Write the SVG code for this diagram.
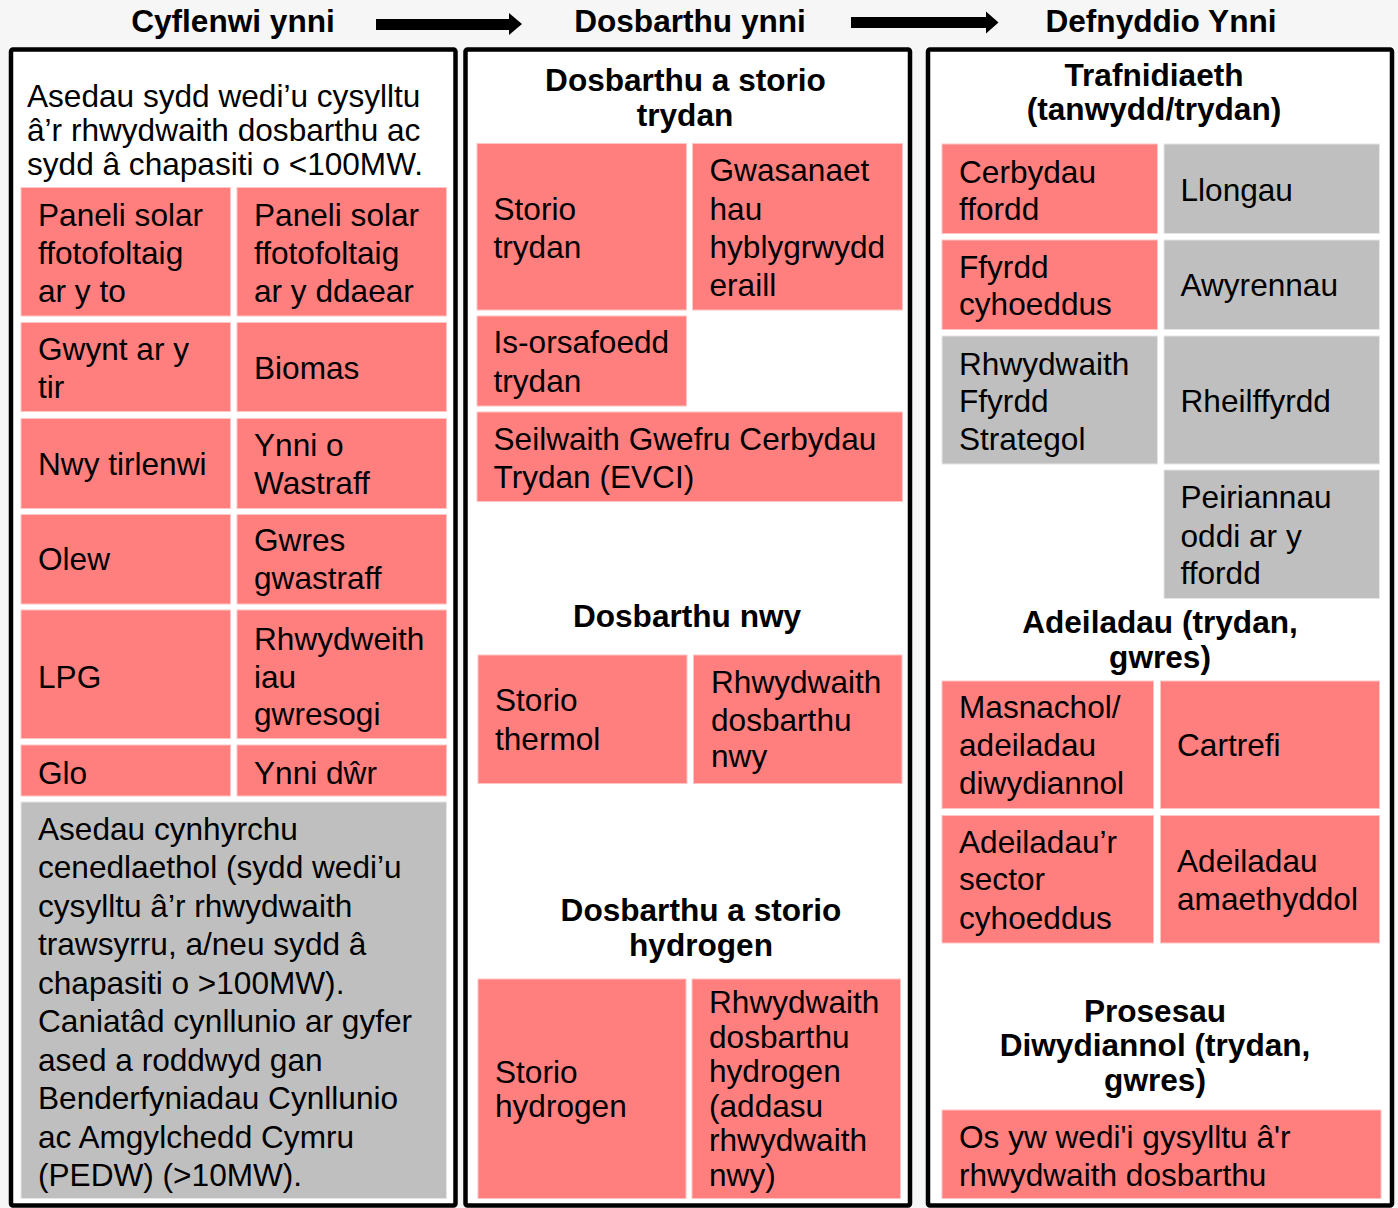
<svg xmlns="http://www.w3.org/2000/svg" width="1398" height="1208" viewBox="0 0 1398 1208">
<style>
text{font-family:"Liberation Sans",Arial,sans-serif;font-size:31.6px;fill:#000}
.h{font-weight:bold;text-anchor:middle}
.p{fill:#ff7f7f;stroke:#ffc4c4;stroke-width:1}
.g{fill:#bfbfbf;stroke:#e6e6e6;stroke-width:1}
.box{fill:#fff;stroke:#000;stroke-width:4.5}
.arr{fill:#000}
</style>
<rect x="0" y="0" width="1398" height="1208" fill="#f6f6f6"/>
<g id="headers">
<text class="h" x="233" y="32">Cyflenwi ynni</text>
<text class="h" x="690" y="32">Dosbarthu ynni</text>
<text class="h" x="1161" y="32">Defnyddio Ynni</text>
</g>
<g id="connectors">
<polygon class="arr" points="376,19 509,19 509,13 522,24 509,35 509,30 376,30"/>
<polygon class="arr" points="851,17 986,17 986,11.5 998.5,22.5 986,33.5 986,28 851,28"/>
</g>
<g id="col-supply">
<rect class="box" x="11" y="49.5" width="444.5" height="1156" rx="2"/>
<text x="27" y="107">Asedau sydd wedi’u cysylltu</text>
<text x="27" y="141">â’r rhwydwaith dosbarthu ac</text>
<text x="27" y="175">sydd â chapasiti o &lt;100MW.</text>
</g>
<g id="col-distribution">
<rect class="box" x="465.5" y="49.5" width="444.5" height="1156" rx="2"/>
<text class="h" x="685.5" y="91">Dosbarthu a storio</text>
<text class="h" x="685" y="126">trydan</text>
<text class="h" x="687" y="627">Dosbarthu nwy</text>
<text class="h" x="701" y="921">Dosbarthu a storio</text>
<text class="h" x="701" y="956">hydrogen</text>
</g>
<g id="col-use">
<rect class="box" x="928" y="49.5" width="464" height="1156" rx="2"/>
<text class="h" x="1154" y="86">Trafnidiaeth</text>
<text class="h" x="1154" y="120">(tanwydd/trydan)</text>
<text class="h" x="1160" y="633">Adeiladau (trydan,</text>
<text class="h" x="1160" y="668">gwres)</text>
<text class="h" x="1155" y="1022">Prosesau</text>
<text class="h" x="1155" y="1056">Diwydiannol (trydan,</text>
<text class="h" x="1155" y="1091">gwres)</text>
</g>

<!-- Supply cells -->
<g id="s-solar-roof"><rect class="p" x="21" y="187.5" width="209.5" height="128.5"/>
<text x="38" y="226">Paneli solar</text><text x="38" y="264">ffotofoltaig</text><text x="38" y="302">ar y to</text></g>
<g id="s-solar-ground"><rect class="p" x="237" y="187.5" width="209.5" height="128.5"/>
<text x="254" y="226">Paneli solar</text><text x="254" y="264">ffotofoltaig</text><text x="254" y="302">ar y ddaear</text></g>
<g id="s-wind"><rect class="p" x="21" y="322.5" width="209.5" height="89"/>
<text x="38" y="360">Gwynt ar y</text><text x="38" y="397.5">tir</text></g>
<g id="s-biomass"><rect class="p" x="237" y="322.5" width="209.5" height="89"/>
<text x="254" y="379">Biomas</text></g>
<g id="s-landfill"><rect class="p" x="21" y="418.5" width="209.5" height="90"/>
<text x="38" y="475">Nwy tirlenwi</text></g>
<g id="s-waste"><rect class="p" x="237" y="418.5" width="209.5" height="90"/>
<text x="254" y="456">Ynni o</text><text x="254" y="494">Wastraff</text></g>
<g id="s-oil"><rect class="p" x="21" y="514.5" width="209.5" height="89.5"/>
<text x="38" y="570">Olew</text></g>
<g id="s-wasteheat"><rect class="p" x="237" y="514.5" width="209.5" height="89.5"/>
<text x="254" y="551">Gwres</text><text x="254" y="589">gwastraff</text></g>
<g id="s-lpg"><rect class="p" x="21" y="610" width="209.5" height="128.5"/>
<text x="38" y="687.5">LPG</text></g>
<g id="s-heatnet"><rect class="p" x="237" y="610" width="209.5" height="128.5"/>
<text x="254" y="649.5">Rhwydweith</text><text x="254" y="687.5">iau</text><text x="254" y="724.5">gwresogi</text></g>
<g id="s-coal"><rect class="p" x="21" y="745" width="209.5" height="51"/>
<text x="38" y="784">Glo</text></g>
<g id="s-hydro"><rect class="p" x="237" y="745" width="209.5" height="51"/>
<text x="254" y="784">Ynni dŵr</text></g>
<g id="s-national"><rect class="g" x="21" y="802" width="425.5" height="396.5"/>
<text x="38" y="839.5">Asedau cynhyrchu</text>
<text x="38" y="878">cenedlaethol (sydd wedi’u</text>
<text x="38" y="916.5">cysylltu â’r rhwydwaith</text>
<text x="38" y="955">trawsyrru, a/neu sydd â</text>
<text x="38" y="993.5">chapasiti o &gt;100MW).</text>
<text x="38" y="1032">Caniatâd cynllunio ar gyfer</text>
<text x="38" y="1070.5">ased a roddwyd gan</text>
<text x="38" y="1109">Benderfyniadau Cynllunio</text>
<text x="38" y="1147.5">ac Amgylchedd Cymru</text>
<text x="38" y="1186">(PEDW) (&gt;10MW).</text></g>

<!-- Distribution cells -->
<g id="d-storage"><rect class="p" x="477" y="143.5" width="209.5" height="166.5"/>
<text x="493.5" y="219.5">Storio</text><text x="493.5" y="257.5">trydan</text></g>
<g id="d-flex"><rect class="p" x="692.5" y="143.5" width="210" height="166.5"/>
<text x="709.5" y="181">Gwasanaet</text><text x="709.5" y="219.5">hau</text><text x="709.5" y="257.5">hyblygrwydd</text><text x="709.5" y="295.5">eraill</text></g>
<g id="d-substations"><rect class="p" x="477" y="316" width="209.5" height="90"/>
<text x="493.5" y="353">Is-orsafoedd</text><text x="493.5" y="391.5">trydan</text></g>
<g id="d-evci"><rect class="p" x="477" y="412" width="425.5" height="89.5"/>
<text x="493.5" y="449.5">Seilwaith Gwefru Cerbydau</text><text x="493.5" y="487.5">Trydan (EVCI)</text></g>
<g id="d-thermal"><rect class="p" x="478" y="655" width="209" height="128.5"/>
<text x="495" y="711">Storio</text><text x="495" y="749.5">thermol</text></g>
<g id="d-gasnet"><rect class="p" x="693.5" y="655" width="208.5" height="128.5"/>
<text x="711" y="693">Rhwydwaith</text><text x="711" y="730.5">dosbarthu</text><text x="711" y="767">nwy</text></g>
<g id="d-h2storage"><rect class="p" x="478" y="979" width="208" height="219.5"/>
<text x="495" y="1083">Storio</text><text x="495" y="1117">hydrogen</text></g>
<g id="d-h2net"><rect class="p" x="692" y="979" width="208.5" height="219.5"/>
<text x="709" y="1013">Rhwydwaith</text><text x="709" y="1047.5">dosbarthu</text><text x="709" y="1082">hydrogen</text><text x="709" y="1116.5">(addasu</text><text x="709" y="1151">rhwydwaith</text><text x="709" y="1185.5">nwy)</text></g>

<!-- Use cells -->
<g id="u-road"><rect class="p" x="942" y="144" width="215.5" height="89.5"/>
<text x="959" y="182.5">Cerbydau</text><text x="959" y="219.5">ffordd</text></g>
<g id="u-ships"><rect class="g" x="1164" y="144" width="215.5" height="89.5"/>
<text x="1180.5" y="201">Llongau</text></g>
<g id="u-public-roads"><rect class="p" x="942" y="240" width="215.5" height="89.5"/>
<text x="959" y="278">Ffyrdd</text><text x="959" y="315">cyhoeddus</text></g>
<g id="u-aircraft"><rect class="g" x="1164" y="240" width="215.5" height="89.5"/>
<text x="1180.5" y="296">Awyrennau</text></g>
<g id="u-strategic"><rect class="g" x="942" y="336" width="215.5" height="128"/>
<text x="959" y="374.5">Rhwydwaith</text><text x="959" y="412">Ffyrdd</text><text x="959" y="450">Strategol</text></g>
<g id="u-rail"><rect class="g" x="1164" y="336" width="215.5" height="128"/>
<text x="1180.5" y="412">Rheilffyrdd</text></g>
<g id="u-offroad"><rect class="g" x="1164" y="470" width="215.5" height="128.5"/>
<text x="1180.5" y="508">Peiriannau</text><text x="1180.5" y="546.5">oddi ar y</text><text x="1180.5" y="584">ffordd</text></g>
<g id="u-commercial"><rect class="p" x="942" y="681" width="211.5" height="127.5"/>
<text x="959" y="717.5">Masnachol/</text><text x="959" y="756">adeiladau</text><text x="959" y="793.5">diwydiannol</text></g>
<g id="u-homes"><rect class="p" x="1160.5" y="681" width="219" height="127.5"/>
<text x="1177" y="756">Cartrefi</text></g>
<g id="u-publicsector"><rect class="p" x="942" y="815.5" width="211.5" height="127.5"/>
<text x="959" y="852.5">Adeiladau’r</text><text x="959" y="890">sector</text><text x="959" y="928.5">cyhoeddus</text></g>
<g id="u-agri"><rect class="p" x="1160.5" y="815.5" width="219" height="127.5"/>
<text x="1177" y="872">Adeiladau</text><text x="1177" y="909.5">amaethyddol</text></g>
<g id="u-industry"><rect class="p" x="942" y="1110" width="439" height="88.5"/>
<text x="959" y="1147.5">Os yw wedi'i gysylltu â'r</text><text x="959" y="1185.5">rhwydwaith dosbarthu</text></g>
</svg>
